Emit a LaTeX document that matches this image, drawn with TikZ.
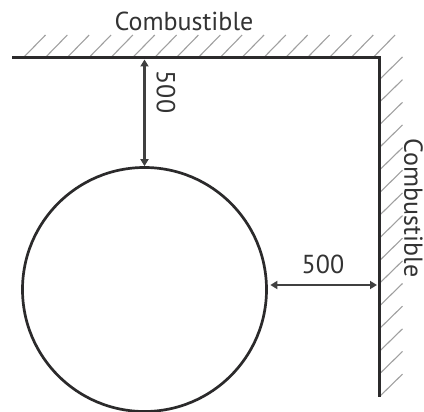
\documentclass[tikz,border=0pt]{standalone}
\usepackage{fontspec}
\setmainfont{PT Sans}
\usetikzlibrary{arrows.meta}
\definecolor{wallc}{HTML}{2B2A2B}
\definecolor{dimc}{HTML}{404040}
\definecolor{hatchc}{HTML}{A0A0A0}
\definecolor{textc}{HTML}{333333}
\tikzset{
  wall/.style={draw=wallc,line width=2.8pt},
  ring/.style={draw=wallc,line width=2.7pt},
  hatchline/.style={draw=hatchc,line width=1.1pt},
  dimline/.style={draw=dimc,line width=2.2pt,{Triangle[length=7pt,width=8pt]}-{Triangle[length=7pt,width=8pt]}},
  lab/.style={text=textc,font=\fontsize{26pt}{29pt}\selectfont,inner sep=0pt}
}
\begin{document}
\begin{tikzpicture}[x=1pt,y=-1pt]
\useasboundingbox (0,0) rectangle (424,412);
\foreach \i in {0,...,16}{
  \draw[hatchline] ({24+21.85*\i},57) -- ({45.5+21.85*\i},35);
}
\foreach \i in {0,...,14}{
  \draw[hatchline] (380,{79+22.65*\i}) -- (402.5,{57+22.65*\i});
}
\coordinate (wallstart) at (12,57.5);
\coordinate (corner) at (379.5,57.5);
\coordinate (wallend) at (379.5,397);
\draw[wall,line join=miter] (wallstart) -- (corner) -- (wallend);
\node[ring,circle,minimum size=244pt,inner sep=0pt] (tank) at (144.5,289.5) {};
\coordinate (vtop) at (144.5,59.5);
\coordinate (hright) at (377,285);
\draw[dimline] (vtop) -- (tank.north);
\draw[dimline] (tank.east |- hright) ++(2.5,0) coordinate (hleft) (hleft) -- (hright);
\node[lab] (combtop) at (184,21) {Combustible};
\node[lab,rotate=-90] (combright) at (413.5,208) {Combustible};
\node[lab] (dimh) at (323,264) {500};
\node[lab,rotate=-90] (dimv) at (166,92) {500};
\end{tikzpicture}
\end{document}
